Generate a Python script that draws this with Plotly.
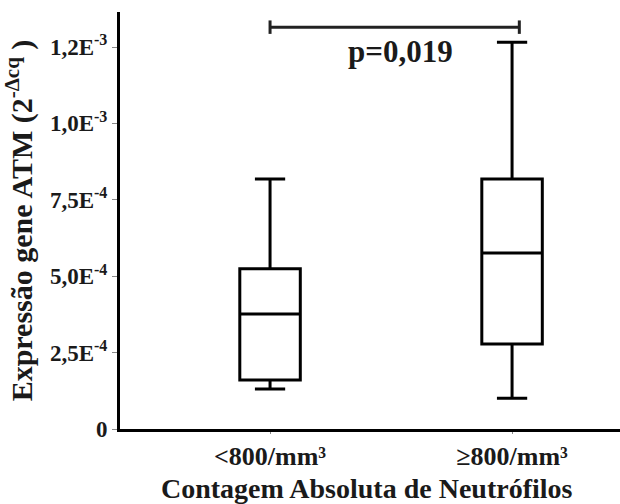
import plotly.graph_objects as go

categories = ["<800/mm³", "≥800/mm³"]
cat_pos = [0, 1]
lower_whisker = [0.131e-3, 0.101e-3]
q1 = [0.160e-3, 0.278e-3]
median = [0.376e-3, 0.576e-3]
q3 = [0.524e-3, 0.818e-3]
upper_whisker = [0.818e-3, 1.266e-3]

ytick_vals = [0, 2.5e-4, 5.0e-4, 7.5e-4, 1.0e-3, 1.25e-3]
ytick_text = ["0", "2,5E<sup>-4</sup>", "5,0E<sup>-4</sup>", "7,5E<sup>-4</sup>",
              "1,0E<sup>-3</sup>", "1,2E<sup>-3</sup>"]

p_text = "p=0,019"
x_title = "Contagem Absoluta de Neutrófilos"
y_title = "Expressão gene ATM (2<sup>-Δcq</sup> )"
bracket_y = 1.315e-3
bracket_tick = 0.022e-3
p_y = 1.235e-3

FONT = "Liberation Serif"
TXT = "#1a1a1a"

fig = go.Figure()
fig.add_trace(go.Box(
    x=cat_pos, q1=q1, median=median, q3=q3,
    lowerfence=lower_whisker, upperfence=upper_whisker,
    width=0.25, whiskerwidth=0.5,
    fillcolor="white", line=dict(color="black", width=3),
    boxpoints=False, showlegend=False, hoverinfo="skip",
))

# significance bracket
bx0, bx1 = cat_pos[0], cat_pos[1] + 0.03
fig.add_shape(type="line", x0=bx0, x1=bx1, y0=bracket_y, y1=bracket_y,
              line=dict(color="#222", width=3))
for bx in (bx0, bx1):
    fig.add_shape(type="line", x0=bx, x1=bx, y0=bracket_y - bracket_tick,
                  y1=bracket_y + bracket_tick, line=dict(color="#222", width=3))
fig.add_annotation(x=0.537, y=p_y, text="<b>" + p_text + "</b>", showarrow=False,
                   font=dict(family=FONT, size=31, color=TXT))

# x-axis title as paper annotation (bottom of figure)
fig.add_annotation(xref="paper", yref="paper", x=0.494, y=-0.143, yanchor="middle",
                   text="<b>" + x_title + "</b>", showarrow=False,
                   font=dict(family=FONT, size=28, color=TXT))

fig.update_layout(
    width=620, height=504,
    margin=dict(l=120, r=0, t=12, b=75),
    plot_bgcolor="white", paper_bgcolor="white",
    xaxis=dict(
        range=[-0.62, 1.446], tickvals=cat_pos, ticktext=categories,
        showline=True, linecolor="black", linewidth=3, showgrid=False,
        zeroline=False, ticks="outside", ticklen=2, tickcolor="#888",
        tickfont=dict(family=FONT, size=26, color=TXT, weight="bold"),
    ),
    yaxis=dict(
        range=[0, 1.3646e-3], tickvals=ytick_vals, ticktext=ytick_text,
        showline=True, linecolor="black", linewidth=3, showgrid=False,
        zeroline=False, ticks="outside", ticklen=5, tickcolor="#888",
        tickfont=dict(family=FONT, size=23, color=TXT, weight="bold"),
        title=dict(text=y_title, standoff=10,
                   font=dict(family=FONT, size=30, color=TXT, weight="bold")),
    ),
)

fig.write_html("out.html")
